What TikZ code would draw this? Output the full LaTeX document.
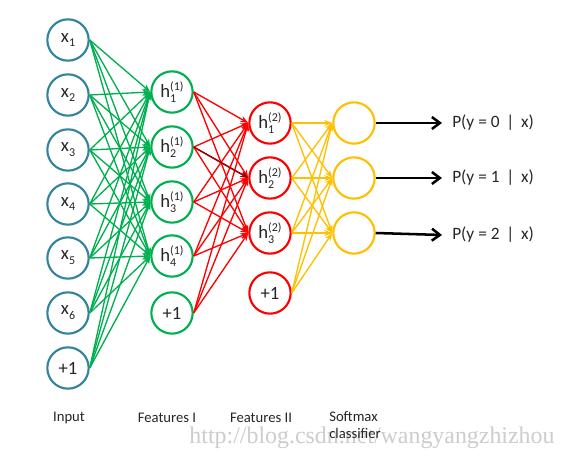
\documentclass[tikz,border=0pt]{standalone}
\usepackage{fontspec}
\setmainfont{Carlito}
\newfontfamily\wmfont{Liberation Serif}
\usetikzlibrary{arrows.meta}
\definecolor{inblue}{RGB}{49,132,155}
\definecolor{fgreen}{RGB}{0,176,80}
\definecolor{fred}{RGB}{255,0,0}
\definecolor{darkred}{RGB}{150,0,0}
\definecolor{fyellow}{RGB}{255,192,0}
\definecolor{txt}{RGB}{38,38,38}
\definecolor{wmgray}{RGB}{205,205,205}
\newcommand{\smallidx}[1]{{\fontsize{9}{9}\selectfont #1}}
\newcommand{\hlab}[2]{h\makebox[0pt][l]{\raisebox{-0.55ex}{\smallidx{#2}}}\raisebox{0.85ex}{\smallidx{(#1)}}}
\newcommand{\xlab}[1]{x\raisebox{-0.55ex}{\smallidx{#1}}}
\begin{document}
\begin{tikzpicture}[x=0.75pt,y=-0.75pt,
  neuron/.style={circle,draw,line width=1.6pt,minimum size=31pt,inner sep=0pt,fill=white,
    font=\fontsize{14}{14}\selectfont,text=txt},
  inneuron/.style={neuron,draw=inblue},
  gneuron/.style={neuron,draw=fgreen},
  rneuron/.style={neuron,draw=fred},
  yneuron/.style={neuron,draw=fyellow},
  conn/.style={line width=1pt,-{Stealth[length=6pt,width=4.5pt]}},
  gconn/.style={conn,fgreen},
  rconn/.style={conn,fred},
  yconn/.style={conn,fyellow},
  outarrow/.style={line width=1.9pt,black,-{Straight Barb[length=6pt,width=9pt]}},
  problab/.style={anchor=west,inner xsep=7.5pt,inner ysep=0pt,font=\fontsize{13}{13}\selectfont,text=txt},
  layerlab/.style={font=\fontsize{11}{14}\selectfont,text=txt,inner sep=0pt}
]
\useasboundingbox (0,0) rectangle (565,459);
\fill[white] (0,0) rectangle (565,459);

% watermark
\node[inner sep=0pt,text=wmgray] (wm) at (372,438)
  {\resizebox{273.75pt}{!}{\wmfont http://blog.csdn.net/wangyangzhizhou}};

% input layer
\node[inneuron] (i1) at (68,40)  {\xlab{1}};
\node[inneuron] (i2) at (68,95)  {\xlab{2}};
\node[inneuron] (i3) at (68,150) {\xlab{3}};
\node[inneuron] (i4) at (68,204) {\xlab{4}};
\node[inneuron] (i5) at (68,258) {\xlab{5}};
\node[inneuron] (i6) at (68,313) {\xlab{6}};
\node[inneuron] (i7) at (68,368) {+1};

% features I
\node[gneuron] (a1) at (172,92)  {\hlab{1}{1}};
\node[gneuron] (a2) at (172,147) {\hlab{1}{2}};
\node[gneuron] (a3) at (172,202) {\hlab{1}{3}};
\node[gneuron] (a4) at (172,256) {\hlab{1}{4}};
\node[gneuron] (a5) at (172,313) {+1};

% features II
\node[rneuron] (b1) at (270,123) {\hlab{2}{1}};
\node[rneuron] (b2) at (270,178) {\hlab{2}{2}};
\node[rneuron] (b3) at (270,233) {\hlab{2}{3}};
\node[rneuron] (b4) at (270,293) {+1};

% softmax
\node[yneuron] (s1) at (354,123) {};
\node[yneuron] (s2) at (354,178) {};
\node[yneuron] (s3) at (354,233) {};

% connections
\foreach \i in {1,...,7}
  \foreach \j in {1,...,4}
    \draw[gconn] (i\i.east) -- (a\j.west);
\foreach \i in {1,...,5}
  \foreach \j in {1,...,3}
    \draw[rconn] (a\i.east) -- (b\j.west);
\draw[rconn,darkred] (a2.east) -- (b2.west);
\foreach \i in {1,...,4}
  \foreach \j in {1,...,3}
    \draw[yconn] (b\i.east) -- (s\j.west);

% outputs
\node[problab] (p0) at (442,123) {P(y = 0 \,|\, x)};
\node[problab] (p1) at (442,178) {P(y = 1 \,|\, x)};
\node[problab] (p2) at (442,235) {P(y = 2 \,|\, x)};
\draw[outarrow] (s1.east) -- (p0.west);
\draw[outarrow] (s2.east) -- (p1.west);
\draw[outarrow] (s3.east) -- (p2.west);

% layer labels
\node[layerlab] (l1) at (69,418) {Input};
\node[layerlab] (l2) at (167,418) {Features I};
\node[layerlab] (l3) at (261,418) {Features II};
\node[layerlab,align=left,anchor=north west] (l4) at (329,411) {Softmax\\[-1pt]classifier};
\end{tikzpicture}
\end{document}
